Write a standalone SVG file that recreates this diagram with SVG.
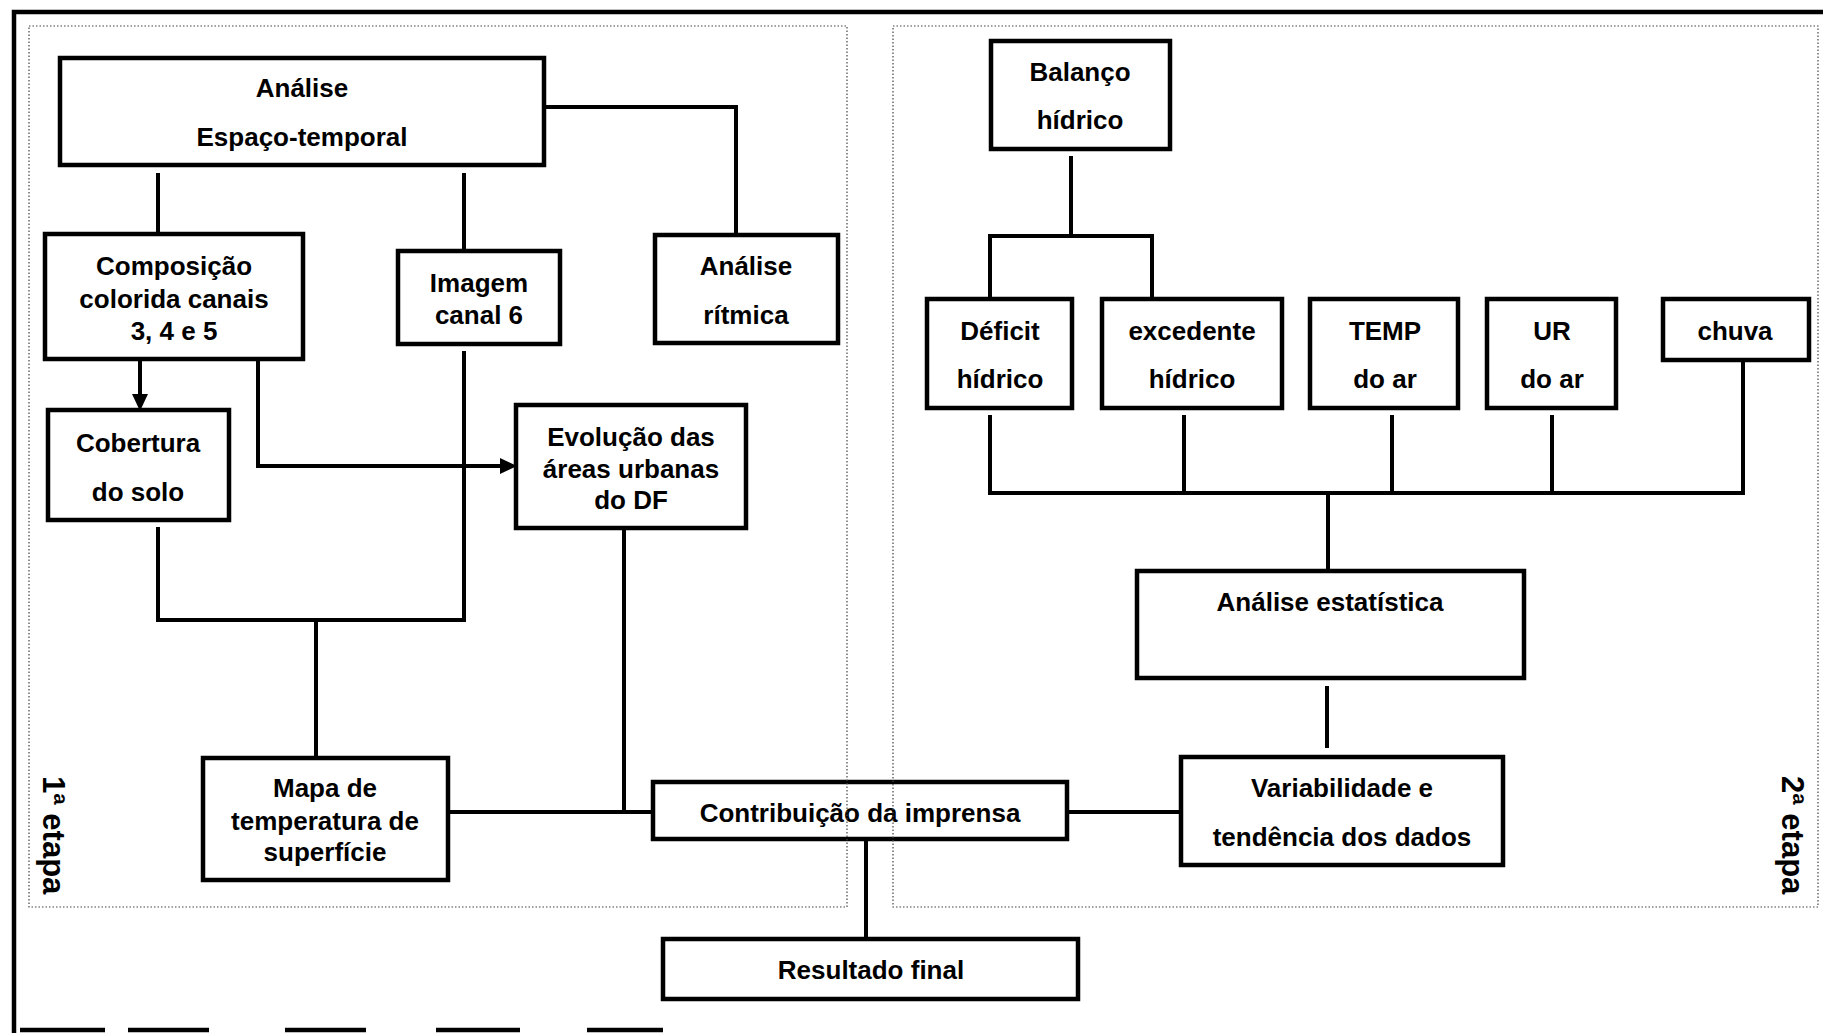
<svg xmlns="http://www.w3.org/2000/svg" width="1823" height="1033" viewBox="0 0 1823 1033">
  <style>
    .box { fill: #ffffff; stroke: #000000; stroke-width: 4.5; }
    .lbl { font-family: "Liberation Sans", Arial, sans-serif; font-weight: bold; font-size: 26px; fill: #000000; text-anchor: middle; }
    .stage { font-family: "Liberation Sans", Arial, sans-serif; font-weight: bold; font-size: 31px; fill: #000000; }
    .wire { fill: none; stroke: #000000; stroke-width: 4; stroke-linejoin: miter; }
    .panel { fill: none; stroke: #444444; stroke-width: 1.2; stroke-dasharray: 1.5 2; }
    .frame { fill: none; stroke: #000000; stroke-width: 4.5; }
  </style>
  <defs>
    <marker id="arrow" markerUnits="userSpaceOnUse" markerWidth="18" markerHeight="16" viewBox="0 0 18 16" refX="6" refY="8" orient="auto">
      <path d="M0,0 L17,8 L0,16 z" fill="#000000"/>
    </marker>
  </defs>

  <rect width="1823" height="1033" fill="#ffffff"/>

  <!-- outer frame -->
  <g id="frame">
    <path class="frame" d="M14,1033 V12 H1823"/>
    <path class="frame" d="M20,1030 H105 M128,1030 H209 M285,1030 H366 M436,1030 H520 M587,1030 H663"/>
  </g>

  <!-- connectors -->
  <g id="connectors">
    <path class="wire" d="M544,107 H736 V235"/>
    <path class="wire" d="M158,173 V234"/>
    <path class="wire" d="M464,173 V251"/>
    <path class="wire" d="M140,359 V400" marker-end="url(#arrow)"/>
    <path class="wire" d="M258,359 V466 H506" marker-end="url(#arrow)"/>
    <path class="wire" d="M158,527 V620 H464 V351"/>
    <path class="wire" d="M316,620 V758"/>
    <path class="wire" d="M624,528 V812"/>
    <path class="wire" d="M448,812 H653"/>
    <path class="wire" d="M1067,812 H1181"/>
    <path class="wire" d="M866,839 V939"/>
    <path class="wire" d="M1071,156 V236"/>
    <path class="wire" d="M990,299 V236 H1152 V299"/>
    <path class="wire" d="M990,415 V493 H1743 V360"/>
    <path class="wire" d="M1184,415 V493"/>
    <path class="wire" d="M1392,415 V493"/>
    <path class="wire" d="M1552,415 V493"/>
    <path class="wire" d="M1328,493 V571"/>
    <path class="wire" d="M1327,686 V748"/>
  </g>

  <!-- stage 1 nodes -->
  <g id="analise-espaco-temporal">
    <rect class="box" x="60" y="58" width="484" height="107"/>
    <text class="lbl" x="302" y="97">Análise</text>
    <text class="lbl" x="302" y="146">Espaço-temporal</text>
  </g>
  <g id="composicao-colorida">
    <rect class="box" x="45" y="234" width="258" height="125"/>
    <text class="lbl" x="174" y="275">Composição</text>
    <text class="lbl" x="174" y="308">colorida canais</text>
    <text class="lbl" x="174" y="340">3, 4 e 5</text>
  </g>
  <g id="imagem-canal-6">
    <rect class="box" x="398" y="251" width="162" height="93"/>
    <text class="lbl" x="479" y="292">Imagem</text>
    <text class="lbl" x="479" y="324">canal 6</text>
  </g>
  <g id="analise-ritmica">
    <rect class="box" x="655" y="235" width="183" height="108"/>
    <text class="lbl" x="746" y="275">Análise</text>
    <text class="lbl" x="746" y="324">rítmica</text>
  </g>
  <g id="cobertura-do-solo">
    <rect class="box" x="48" y="410" width="181" height="110"/>
    <text class="lbl" x="138" y="452">Cobertura</text>
    <text class="lbl" x="138" y="501">do solo</text>
  </g>
  <g id="evolucao-areas-urbanas">
    <rect class="box" x="516" y="405" width="230" height="123"/>
    <text class="lbl" x="631" y="446">Evolução das</text>
    <text class="lbl" x="631" y="478">áreas urbanas</text>
    <text class="lbl" x="631" y="509">do DF</text>
  </g>
  <g id="mapa-temperatura">
    <rect class="box" x="203" y="758" width="245" height="122"/>
    <text class="lbl" x="325" y="797">Mapa de</text>
    <text class="lbl" x="325" y="830">temperatura de</text>
    <text class="lbl" x="325" y="861">superfície</text>
  </g>
  <g id="contribuicao-imprensa">
    <rect class="box" x="653" y="782" width="414" height="57"/>
    <text class="lbl" x="860" y="822">Contribuição da imprensa</text>
  </g>
  <g id="resultado-final">
    <rect class="box" x="663" y="939" width="415" height="60"/>
    <text class="lbl" x="871" y="979">Resultado final</text>
  </g>

  <!-- stage 2 nodes -->
  <g id="balanco-hidrico">
    <rect class="box" x="991" y="41" width="179" height="108"/>
    <text class="lbl" x="1080" y="81">Balanço</text>
    <text class="lbl" x="1080" y="129">hídrico</text>
  </g>
  <g id="deficit-hidrico">
    <rect class="box" x="927" y="299" width="145" height="109"/>
    <text class="lbl" x="1000" y="340">Déficit</text>
    <text class="lbl" x="1000" y="388">hídrico</text>
  </g>
  <g id="excedente-hidrico">
    <rect class="box" x="1102" y="299" width="180" height="109"/>
    <text class="lbl" x="1192" y="340">excedente</text>
    <text class="lbl" x="1192" y="388">hídrico</text>
  </g>
  <g id="temp-do-ar">
    <rect class="box" x="1310" y="299" width="148" height="109"/>
    <text class="lbl" x="1385" y="340">TEMP</text>
    <text class="lbl" x="1385" y="388">do ar</text>
  </g>
  <g id="ur-do-ar">
    <rect class="box" x="1487" y="299" width="129" height="109"/>
    <text class="lbl" x="1552" y="340">UR</text>
    <text class="lbl" x="1552" y="388">do ar</text>
  </g>
  <g id="chuva">
    <rect class="box" x="1663" y="299" width="146" height="61"/>
    <text class="lbl" x="1735" y="340">chuva</text>
  </g>
  <g id="analise-estatistica">
    <rect class="box" x="1137" y="571" width="387" height="107"/>
    <text class="lbl" x="1330" y="611">Análise estatística</text>
  </g>
  <g id="variabilidade-tendencia">
    <rect class="box" x="1181" y="757" width="322" height="108"/>
    <text class="lbl" x="1342" y="797">Variabilidade e</text>
    <text class="lbl" x="1342" y="846">tendência dos dados</text>
  </g>

  <!-- dotted stage panels -->
  <g id="stage-1">
    <rect class="panel" x="29" y="26" width="818" height="881"/>
    <text class="stage" transform="translate(43,776) rotate(90)">1ª etapa</text>
  </g>
  <g id="stage-2">
    <rect class="panel" x="893" y="26" width="925" height="881"/>
    <text class="stage" transform="translate(1782,776) rotate(90)">2ª etapa</text>
  </g>
</svg>
